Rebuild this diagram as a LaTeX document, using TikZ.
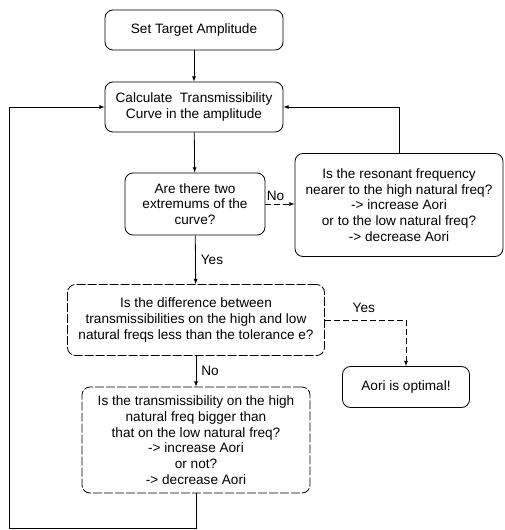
\documentclass[tikz,border=0pt]{standalone}
\usepackage{fontspec}
\setmainfont{Liberation Sans}
\usepackage{tikz}
\usetikzlibrary{arrows,calc}

\begin{document}
\begin{tikzpicture}[x=1pt,y=-1pt,line width=0.8pt,
  box/.style={draw,rounded corners=8pt,align=center,inner sep=2pt,
    font=\fontsize{13.6}{15.7}\selectfont},
  dbox/.style={box,dash pattern=on 9pt off 2pt},
  lbl/.style={font=\fontsize{13.6}{15.7}\selectfont,inner sep=1pt},
  link/.style={-latex},
  dlink/.style={-latex,dash pattern=on 6pt off 3pt}]
\useasboundingbox (0,0) rectangle (505,530);
\node[box,minimum width=178pt,minimum height=40pt] (set) at (194,30) {Set Target Amplitude};
\node[box,minimum width=178pt,minimum height=50pt] (calc) at (194,107)
  {Calculate~ Transmissibility\\Curve in the amplitude};
\node[box,minimum width=140pt,minimum height=62pt] (extr) at (195,204)
  {Are there two\\extremums of the\\curve?};
\node[box,minimum width=208pt,minimum height=103pt] (reson) at (399,205)
  {Is the resonant frequency\\nearer to the high natural freq?\\-> increase Aori\\or to the low natural freq?\\-> decrease Aori};
\node[dbox,minimum width=257pt,minimum height=71pt] (diff) at (196,320)
  {Is the difference between\\transmissibilities on the high and low\\natural freqs less than the tolerance e?};
\node[box,minimum width=127pt,minimum height=41pt] (opt) at (406,387) {Aori is optimal!};
\node[dbox,minimum width=228pt,minimum height=106pt] (big) at (196,440)
  {Is the transmissibility on the high\\natural freq bigger than\\that on the low natural freq?\\-> increase Aori\\or not?\\-> decrease Aori};
\coordinate (corner) at (9,528);
\draw[link] (set) -- (calc);
\draw[link] (calc) -- (extr);
\draw[dlink] (extr.east) -- node[lbl,pos=0,above right,yshift=2pt] {No} (extr.east -| reson.west);
\draw[link] (reson.north) |- (calc.east);
\draw[link] (extr) -- node[lbl,right=4pt] {Yes} (diff);
\draw[dlink] (diff.east) -| node[lbl,pos=0.24,above=6pt] {Yes} (opt.north);
\draw[link] (diff) -- node[lbl,right=4pt] {No} (big);
\draw[link] (big.south) |- (corner) |- (calc.west);
\end{tikzpicture}
\end{document}
